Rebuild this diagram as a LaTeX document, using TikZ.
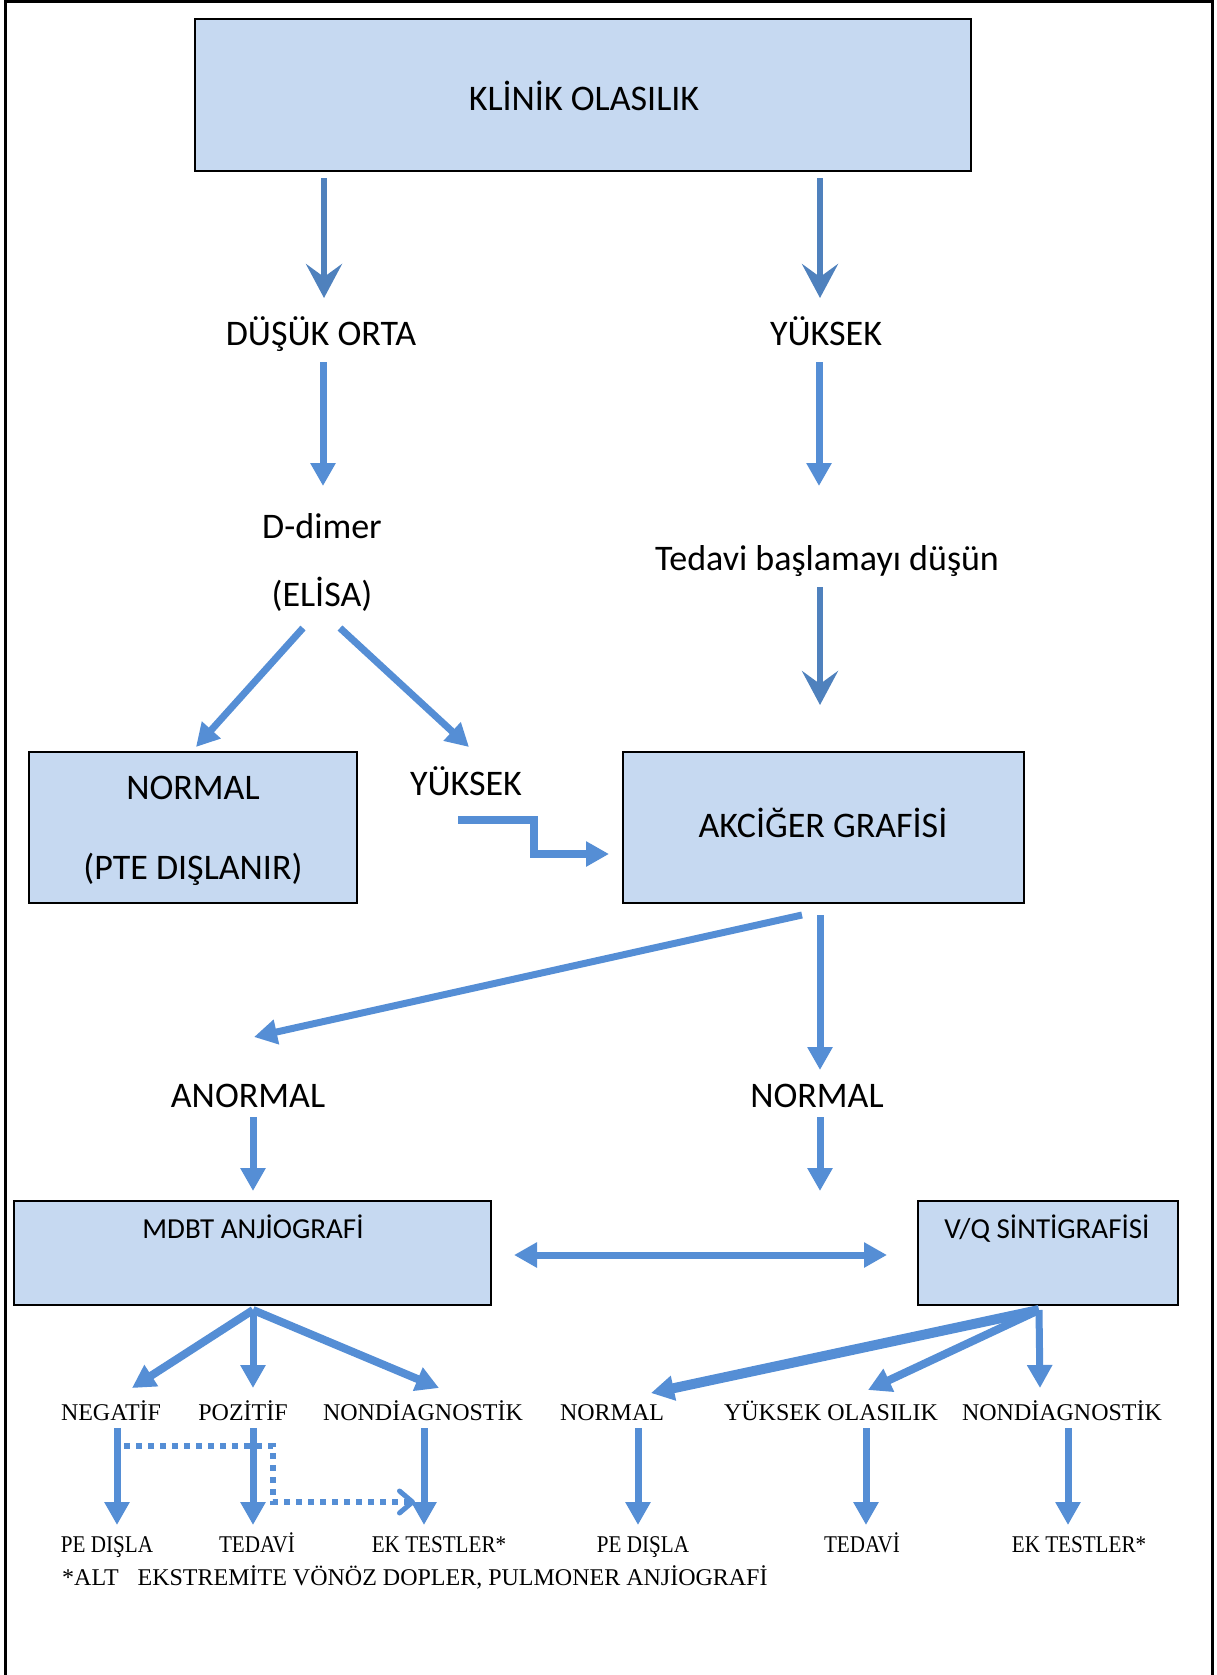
\documentclass[tikz,border=0pt]{standalone}
\usepackage{fontspec}
\setmainfont{Liberation Serif}
\newfontfamily\calfont{Carlito}
\newfontfamily\tmscond[FakeStretch=0.88]{Liberation Serif}
\usetikzlibrary{arrows.meta}
\definecolor{boxfill}{RGB}{198,217,241}
\definecolor{lightarr}{RGB}{85,142,213}
\definecolor{darkarr}{RGB}{79,129,189}
\begin{document}
\begin{tikzpicture}[x=1pt,y=-1pt,
  box/.style={draw=black, line width=2.5pt, fill=boxfill, inner sep=0pt, outer sep=0pt},
  cal/.style={font=\calfont\fontsize{36}{43}\selectfont, inner sep=0pt, anchor=base},
  calsm/.style={font=\calfont\fontsize{29}{35}\selectfont, inner sep=0pt, anchor=base},
  tms/.style={font=\fontsize{24}{29}\selectfont, inner sep=0pt, anchor=base},
  tmsc/.style={font=\tmscond\fontsize{24}{29}\selectfont, inner sep=0pt, anchor=base},
  darrow/.style={draw=darkarr, line width=6pt, -{Stealth[length=34pt,width=36pt,inset=13pt]}},
  larrow/.style={draw=lightarr, line width=7pt, -{Triangle[length=23pt,width=24pt]}},
  dotarrow/.style={draw=lightarr, line width=6pt, dash pattern=on 6pt off 6pt,
     -{Straight Barb[length=13pt,width=22pt,line width=5pt,round]}},
]
\useasboundingbox (0,0) rectangle (1217,1675);
% frame
\draw[line width=3pt] (5,1675) -- (5,2) -- (1212,2) -- (1212,1675);

% boxes
\node[box, minimum width=776pt, minimum height=152pt] (klinik) at (583,95) {};
\node[box, minimum width=328pt, minimum height=151pt] (normbox) at (193,827.5) {};
\node[box, minimum width=401pt, minimum height=151pt] (akc) at (823.5,827.5) {};
\node[box, minimum width=477pt, minimum height=104pt] (mdbt) at (252.5,1253) {};
\node[box, minimum width=260pt, minimum height=104pt] (vq) at (1048,1253) {};

% upper texts (Carlito)
\node[cal] (tklinik) at (584,111) {KLİNİK OLASILIK};
\node[cal] (dusuk) at (321,345) {DÜŞÜK ORTA};
\node[cal] (yuksek1) at (826,345) {YÜKSEK};
\node[cal] (ddimer) at (322,538) {D-dimer};
\node[cal] (elisa) at (322,606) {(ELİSA)};
\node[cal] (tedavi1) at (827,570) {Tedavi başlamayı düşün};
\node[cal] (tnormal) at (193,799) {NORMAL};
\node[cal] (tpte) at (193,879) {(PTE DIŞLANIR)};
\node[cal] (yuksek2) at (466,795) {YÜKSEK};
\node[cal] (takc) at (823,837) {AKCİĞER GRAFİSİ};
\node[cal] (anormal) at (248,1107) {ANORMAL};
\node[cal] (normal2) at (817,1107) {NORMAL};
\node[calsm] (tmdbt) at (253,1238) {MDBT ANJİOGRAFİ};
\node[calsm] (tvq) at (1047,1238) {V/Q SİNTİGRAFİSİ};

% lower texts (Times)
\node[tms] (neg) at (111,1420) {NEGATİF};
\node[tms] (poz) at (243,1420) {POZİTİF};
\node[tms] (nond1) at (423,1420) {NONDİAGNOSTİK};
\node[tms] (norm3) at (612,1420) {NORMAL};
\node[tms] (yol) at (831,1420) {YÜKSEK OLASILIK};
\node[tms] (nond2) at (1062,1420) {NONDİAGNOSTİK};
\node[tmsc] (pe1) at (107,1552) {PE DIŞLA};
\node[tmsc] (ted1) at (257,1552) {TEDAVİ};
\node[tmsc] (ek1) at (439,1552) {EK TESTLER*};
\node[tmsc] (pe2) at (643,1552) {PE DIŞLA};
\node[tmsc] (ted2) at (862,1552) {TEDAVİ};
\node[tmsc] (ek2) at (1079,1552) {EK TESTLER*};
\node[tms, anchor=base west] (foot) at (62,1585) {*ALT\hspace{19pt}EKSTREMİTE VÖNÖZ DOPLER, PULMONER ANJİOGRAFİ};

% connector end points
\coordinate (a1s) at (324,178);  \coordinate (a1e) at (324,298);
\coordinate (a2s) at (820,178);  \coordinate (a2e) at (820,298);
\coordinate (b1s) at (323,362);  \coordinate (b1e) at (323,486);
\coordinate (b2s) at (819,362);  \coordinate (b2e) at (819,486);
\coordinate (c1s) at (820,587);  \coordinate (c1e) at (820,705);
\coordinate (d1s) at (303,628);  \coordinate (d1e) at (196,747);
\coordinate (d2s) at (340,628);  \coordinate (d2e) at (469,747);
\coordinate (zs) at (458,820);   \coordinate (ze) at (609,854);
\coordinate (e1s) at (802,915);  \coordinate (e1e) at (254,1037);
\coordinate (e2s) at (820,915);  \coordinate (e2e) at (820,1070);
\coordinate (f1s) at (253,1117); \coordinate (f1e) at (253,1191);
\coordinate (f2s) at (820,1117); \coordinate (f2e) at (820,1191);
\coordinate (hl) at (514,1255);  \coordinate (hr) at (887,1255);
\coordinate (mb) at (253,1310);  \coordinate (vb) at (1039,1310);
\coordinate (g1) at (132,1388);  \coordinate (g2) at (253,1388);  \coordinate (g3) at (439,1388);
\coordinate (g4) at (651,1393);  \coordinate (g5) at (868,1390);  \coordinate (g6) at (1040,1388);
\coordinate (k1s) at (117,1428); \coordinate (k1e) at (117,1525);
\coordinate (k2s) at (253,1428); \coordinate (k2e) at (253,1525);
\coordinate (k3s) at (424,1428); \coordinate (k3e) at (424,1525);
\coordinate (k4s) at (638,1428); \coordinate (k4e) at (638,1525);
\coordinate (k5s) at (866,1428); \coordinate (k5e) at (866,1525);
\coordinate (k6s) at (1068,1428);\coordinate (k6e) at (1068,1525);
\coordinate (ps) at (124,1446);  \coordinate (pe) at (415,1502);

% connectors
\draw[darrow] (a1s) -- (a1e);
\draw[darrow] (a2s) -- (a2e);
\draw[larrow] (b1s) -- (b1e);
\draw[larrow] (b2s) -- (b2e);
\draw[darrow] (c1s) -- (c1e);
\draw[larrow] (d1s) -- (d1e);
\draw[larrow] (d2s) -- (d2e);
\draw[larrow, line width=8pt, line join=miter] (zs) -- (534,820) -- (534,854) -- (ze);
\draw[larrow] (e1s) -- (e1e);
\draw[larrow] (e2s) -- (e2e);
\draw[larrow] (f1s) -- (f1e);
\draw[larrow] (f2s) -- (f2e);
\draw[larrow, {Triangle[length=23pt,width=24pt]}-{Triangle[length=23pt,width=24pt]}] (hl) -- (hr);
\draw[larrow, line width=8pt] (mb) -- (g1);
\draw[larrow] (mb) -- (g2);
\draw[larrow, line width=8pt] (mb) -- (g3);
\draw[larrow, line width=10pt] (vb) -- (g4);
\draw[larrow, line width=8pt] (vb) -- (g5);
\draw[larrow] (vb) -- (g6);
\draw[larrow] (k1s) -- (k1e);
\draw[larrow] (k2s) -- (k2e);
\draw[larrow] (k3s) -- (k3e);
\draw[larrow] (k4s) -- (k4e);
\draw[larrow] (k5s) -- (k5e);
\draw[larrow] (k6s) -- (k6e);
\draw[dotarrow] (ps) -- (273,1446) -- (273,1502) -- (pe);
\end{tikzpicture}
\end{document}
